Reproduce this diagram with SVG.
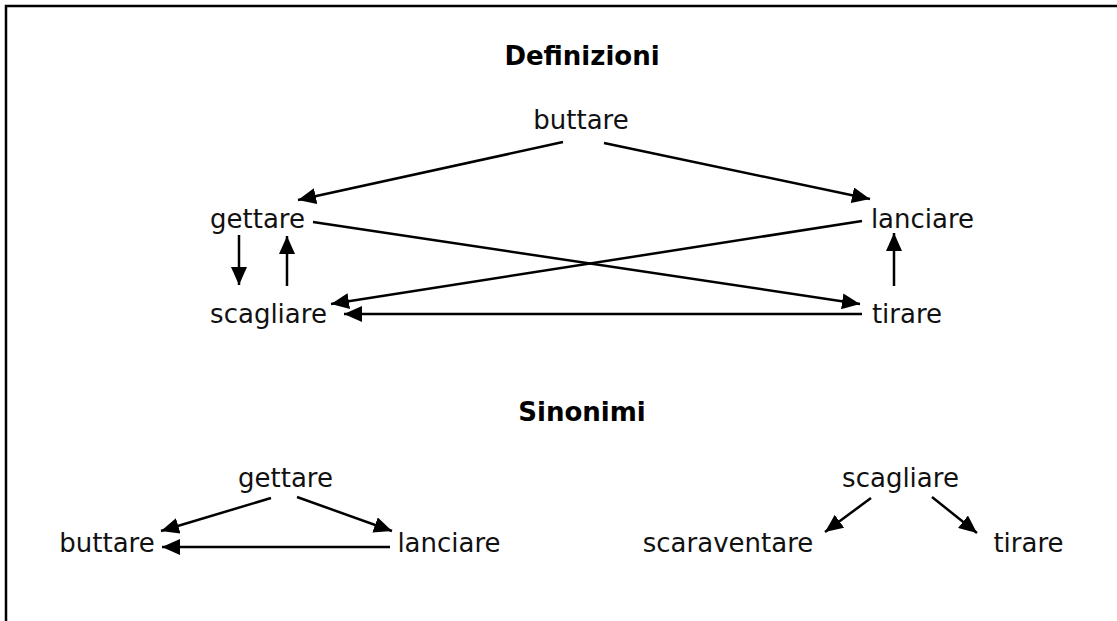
<svg xmlns="http://www.w3.org/2000/svg" width="1117" height="621" viewBox="0 0 1117 621">
<defs>
<style>
.t{font-family:"DejaVu Sans","Verdana",sans-serif;font-size:26px;fill:#111;text-anchor:middle}
.h{font-family:"DejaVu Sans","Verdana",sans-serif;font-size:26px;font-weight:bold;fill:#000;text-anchor:middle}
.e{stroke:#000;stroke-width:2.5;fill:none;marker-end:url(#a)}
</style>
<marker id="a" viewBox="0 0 18 16" markerWidth="18" markerHeight="16" refX="18" refY="8" orient="auto" markerUnits="userSpaceOnUse">
<path d="M0,0 L18,8 L0,16 z" fill="#000"/>
</marker>
</defs>
<rect width="1117" height="621" fill="#fff"/>
<path d="M6,621 V6 H1117" stroke="#000" stroke-width="2.5" fill="none"/>
<text class="h" x="582" y="65">Definizioni</text>
<text class="h" x="582" y="421">Sinonimi</text>
<g id="def-buttare"><text class="t" x="581" y="129">buttare</text></g>
<g id="def-gettare"><text class="t" x="257.5" y="228">gettare</text></g>
<g id="def-lanciare"><text class="t" x="922.5" y="228">lanciare</text></g>
<g id="def-scagliare"><text class="t" x="268.5" y="323">scagliare</text></g>
<g id="def-tirare"><text class="t" x="907" y="323">tirare</text></g>
<g id="syn-gettare"><text class="t" x="285.5" y="487">gettare</text></g>
<g id="syn-buttare"><text class="t" x="107" y="552">buttare</text></g>
<g id="syn-lanciare"><text class="t" x="449" y="552">lanciare</text></g>
<g id="syn-scagliare"><text class="t" x="900.5" y="487">scagliare</text></g>
<g id="syn-scaraventare"><text class="t" x="728" y="552">scaraventare</text></g>
<g id="syn-tirare"><text class="t" x="1028.5" y="552">tirare</text></g>
<g id="connectors">
<line class="e" x1="563" y1="142" x2="298" y2="200"/>
<line class="e" x1="604" y1="143" x2="870" y2="199"/>
<line class="e" x1="313" y1="222" x2="860" y2="304"/>
<line class="e" x1="862" y1="221" x2="331" y2="304"/>
<line class="e" x1="862" y1="314" x2="344" y2="314"/>
<line class="e" x1="239" y1="235" x2="239" y2="285"/>
<line class="e" x1="287" y1="286" x2="287" y2="236"/>
<line class="e" x1="894" y1="286" x2="894" y2="233"/>
<line class="e" x1="271" y1="498" x2="161" y2="531"/>
<line class="e" x1="297" y1="497" x2="392" y2="531"/>
<line class="e" x1="390" y1="547" x2="162" y2="547"/>
<line class="e" x1="871" y1="498" x2="825" y2="532"/>
<line class="e" x1="932" y1="497" x2="977" y2="533"/>
</g>
</svg>
